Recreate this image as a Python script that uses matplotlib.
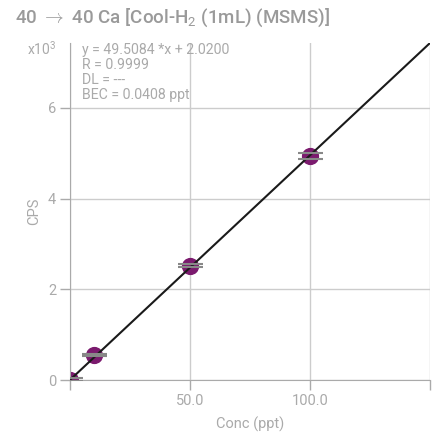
import numpy as np
from matplotlib import pyplot as plt

plt.rcParams['font.family'] = ['Roboto', 'DejaVu Sans']
plt.rcParams['mathtext.fontset'] = 'custom'
plt.rcParams['mathtext.rm'] = 'Roboto'

conc = [0.0, 10.0, 50.0, 100.0]
cps_k = [0.01, 0.55, 2.52, 4.94]  # x10^3
err_k = [0.03, 0.03, 0.04, 0.06]
slope, intercept = 49.5084, 2.0200
fit_lines = ["y = 49.5084 *x + 2.0200", "R = 0.9999", "DL = ---", "BEC = 0.0408 ppt"]
xticks = [0, 50, 100, 150]
xticklabels = ["", "50.0", "100.0", ""]
yticks = [0, 2, 4, 6]

grey = '#aaaaaa'
fig = plt.figure(dpi=100, figsize=(4.32, 4.33))
ax = fig.add_axes([70 / 432, 53 / 433, 360 / 432, 337 / 433])

xs = np.array([0, 150])
ax.plot(xs, (slope * xs + intercept) / 1000, c='#1a1a1a', lw=1.5, zorder=3)
ax.scatter(conc, cps_k, s=130, c='#7b1a6e', zorder=2)
ax.errorbar(conc, cps_k, yerr=err_k, fmt='none', ecolor='#888888', capsize=9,
            elinewidth=0, capthick=1.5, zorder=4)

ax.set_xlim(0, 150)
ax.set_ylim(0, (slope * 150 + intercept) / 1000)
ax.set_xticks(xticks)
ax.set_xticklabels(xticklabels)
ax.set_yticks(yticks)
ax.grid(True, color='#cccccc', lw=1)
ax.set_axisbelow(True)
for side in ['top', 'right']:
    ax.spines[side].set_visible(False)
for side in ['left', 'bottom']:
    ax.spines[side].set_color(grey)
ax.tick_params(axis='both', colors=grey, labelsize=10.5, length=7, width=1, pad=3)

ax.set_xlabel('Conc (ppt)', color=grey, fontsize=10.5, labelpad=6)
ax.set_ylabel('CPS', color=grey, fontsize=10.5, labelpad=5)

fig.text(15 / 432, 1 - 18 / 433, '40 ${\\rightarrow}$ 40 Ca [Cool-H$_2$ (1mL) (MSMS)]',
         color='#9a9a9a', fontsize=13.5, va='center', fontweight='medium')
fig.text(27 / 432, 1 - 49 / 433, 'x10$^3$', color=grey, fontsize=10, va='center')
for i, line in enumerate(fit_lines):
    fig.text(82 / 432, 1 - (50 + 15 * i) / 433, line, color=grey, fontsize=10.2, va='center')

fig.savefig('out.png')
